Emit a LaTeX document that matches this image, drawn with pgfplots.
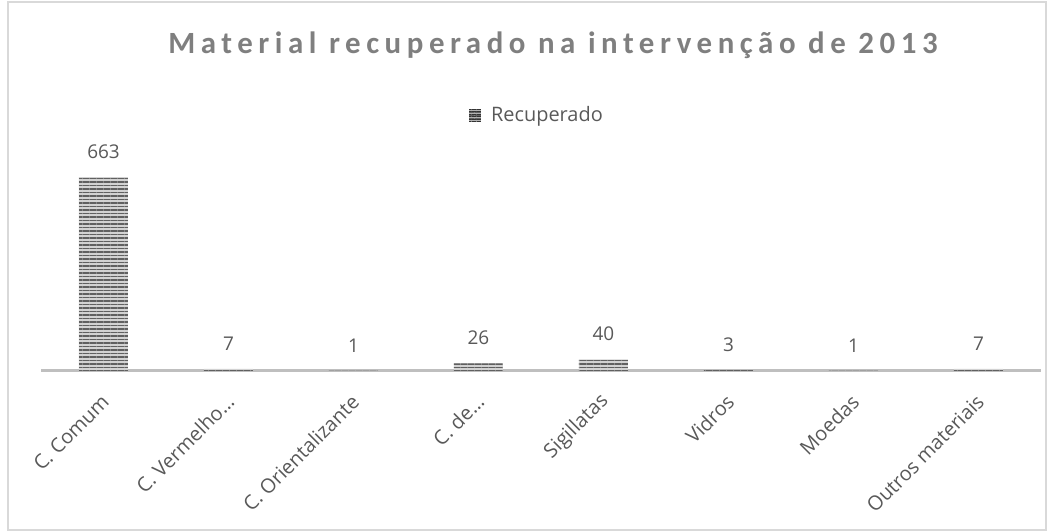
\documentclass[border=0pt]{standalone}
\usepackage{pgfplots}
\pgfplotsset{compat=1.18}
\usepackage{fontspec}
\setmainfont{Open Sans}
\newfontfamily\titlefont[LetterSpace=18]{Carlito}
\usetikzlibrary{patterns.meta}
\definecolor{txt}{HTML}{595959}
\definecolor{ttl}{HTML}{7F7F7F}
\definecolor{axl}{HTML}{BFBFBF}
\definecolor{frm}{HTML}{D9D9D9}
\begin{document}
\begin{tikzpicture}[x=1bp,y=1bp]
\useasboundingbox (-41,-161) rectangle (1010,371);
\draw[frm, line width=1.5bp] (-33,-159) rectangle (1005,369);
\begin{axis}[
  at={(0,0)}, anchor=south west,
  scale only axis, width=1000bp, height=204.8bp,
  xmin=-0.5, xmax=7.5, ymin=0, ymax=700,
  axis x line*=bottom, axis y line=none,
  x axis line style={axl, line width=3bp, -},
  xtick=data, xtick style={draw=none},
  xticklabels={C. Comum, C. Vermelho\ldots, C. Orientalizante, C. de\ldots, Sigillatas, Vidros, Moedas, Outros materiais},
  xticklabel style={xshift=2bp, yshift=-23bp, rotate=45, anchor=east, font=\fontsize{20}{22}\selectfont, text=txt, inner sep=0pt},
  ytick=\empty,
  clip=false,
  /pgf/number format/assume math mode=true,
  ybar, bar width=49bp,
  nodes near coords,
  nodes near coords style={font=\fontsize{19}{22}\selectfont, text=txt, anchor=south, yshift=15bp},
  legend style={at={(0.496,1.25)}, anchor=center, draw=none, fill=none, font=\fontsize{20}{22}\selectfont, text=txt},
  legend image code/.code={\fill[gray!60, postaction={pattern={Lines[angle=0,distance=2.5bp,line width=1bp]}, pattern color=gray!40!black}] (0bp,-6bp) rectangle (12bp,6bp); \path (20bp,0);},
]
\addplot[draw=none, fill=gray!35, postaction={pattern={Lines[angle=0,distance=3.5bp,line width=1.3bp]}, pattern color=gray!75!black}]
  coordinates {(0,663) (1,7) (2,1) (3,26) (4,40) (5,3) (6,1) (7,7)};
\addlegendentry{Recuperado}
\end{axis}
\node[text=ttl, font=\titlefont\bfseries\fontsize{31}{34}\selectfont] at (512,326) {Material recuperado na intervenção de 2013};
\end{tikzpicture}
\end{document}
